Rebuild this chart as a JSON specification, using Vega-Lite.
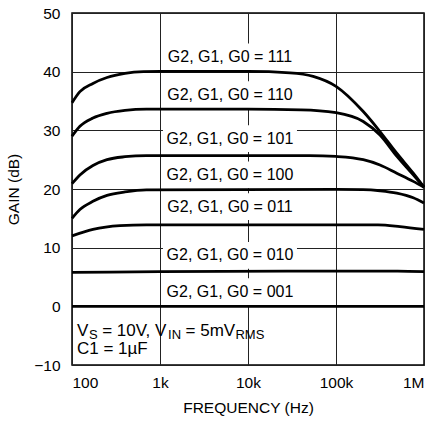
{
  "$schema": "https://vega.github.io/schema/vega-lite/v6.json",
  "width": 352,
  "height": 352,
  "autosize": "none",
  "padding": {"left": 72, "top": 13, "right": 11, "bottom": 56},
  "config": {
    "view": {"stroke": "black", "strokeWidth": 1.5},
    "font": "Liberation Sans",
    "axis": {
      "domain": false, "ticks": false, "grid": true, "gridColor": "#222", "gridWidth": 1, "gridOpacity": 1,
      "labelFont": "Liberation Sans", "labelFontSize": 15.5, "labelColor": "black",
      "titleFont": "Liberation Sans", "titleFontSize": 15.5, "titleFontWeight": "normal", "titleColor": "black"
    }
  },
  "datasets": {
    "curves": [
      {"code": "111", "freq": 100, "gain": 34.7}, {"code": "111", "freq": 123, "gain": 36.6}, {"code": "111", "freq": 173, "gain": 38.0}, {"code": "111", "freq": 250, "gain": 39.0}, {"code": "111", "freq": 400, "gain": 39.7}, {"code": "111", "freq": 650, "gain": 40.0}, {"code": "111", "freq": 1000, "gain": 40.05}, {"code": "111", "freq": 10000, "gain": 40.05}, {"code": "111", "freq": 30000, "gain": 39.8}, {"code": "111", "freq": 55000, "gain": 39.2}, {"code": "111", "freq": 100000, "gain": 37.5}, {"code": "111", "freq": 204000, "gain": 33.2}, {"code": "111", "freq": 316000, "gain": 29.8}, {"code": "111", "freq": 490000, "gain": 26.1}, {"code": "111", "freq": 755000, "gain": 22.7}, {"code": "111", "freq": 1000000, "gain": 20.3},
      {"code": "110", "freq": 100, "gain": 29.0}, {"code": "110", "freq": 123, "gain": 30.7}, {"code": "110", "freq": 173, "gain": 32.1}, {"code": "110", "freq": 250, "gain": 32.9}, {"code": "110", "freq": 400, "gain": 33.4}, {"code": "110", "freq": 700, "gain": 33.6}, {"code": "110", "freq": 10000, "gain": 33.6}, {"code": "110", "freq": 40000, "gain": 33.5}, {"code": "110", "freq": 100000, "gain": 33.0}, {"code": "110", "freq": 204000, "gain": 31.5}, {"code": "110", "freq": 316000, "gain": 29.2}, {"code": "110", "freq": 490000, "gain": 25.6}, {"code": "110", "freq": 755000, "gain": 22.4}, {"code": "110", "freq": 1000000, "gain": 20.3},
      {"code": "101", "freq": 100, "gain": 20.9}, {"code": "101", "freq": 123, "gain": 22.4}, {"code": "101", "freq": 173, "gain": 24.0}, {"code": "101", "freq": 250, "gain": 25.0}, {"code": "101", "freq": 400, "gain": 25.5}, {"code": "101", "freq": 700, "gain": 25.7}, {"code": "101", "freq": 50000, "gain": 25.7}, {"code": "101", "freq": 100000, "gain": 25.55}, {"code": "101", "freq": 204000, "gain": 25.0}, {"code": "101", "freq": 316000, "gain": 24.1}, {"code": "101", "freq": 490000, "gain": 22.7}, {"code": "101", "freq": 755000, "gain": 21.3}, {"code": "101", "freq": 1000000, "gain": 20.3},
      {"code": "100", "freq": 100, "gain": 15.0}, {"code": "100", "freq": 123, "gain": 16.5}, {"code": "100", "freq": 173, "gain": 17.9}, {"code": "100", "freq": 250, "gain": 18.9}, {"code": "100", "freq": 400, "gain": 19.5}, {"code": "100", "freq": 700, "gain": 19.85}, {"code": "100", "freq": 100000, "gain": 19.95}, {"code": "100", "freq": 204000, "gain": 19.9}, {"code": "100", "freq": 316000, "gain": 19.7}, {"code": "100", "freq": 490000, "gain": 19.3}, {"code": "100", "freq": 755000, "gain": 18.5}, {"code": "100", "freq": 1000000, "gain": 17.6},
      {"code": "011", "freq": 100, "gain": 12.0}, {"code": "011", "freq": 173, "gain": 13.1}, {"code": "011", "freq": 351, "gain": 13.75}, {"code": "011", "freq": 700, "gain": 13.9}, {"code": "011", "freq": 300000, "gain": 13.9}, {"code": "011", "freq": 534000, "gain": 13.6}, {"code": "011", "freq": 1000000, "gain": 13.1},
      {"code": "010", "freq": 100, "gain": 5.8}, {"code": "010", "freq": 1000, "gain": 5.9}, {"code": "010", "freq": 100000, "gain": 6.0}, {"code": "010", "freq": 500000, "gain": 6.0}, {"code": "010", "freq": 1000000, "gain": 5.9},
      {"code": "001", "freq": 100, "gain": 0.0}, {"code": "001", "freq": 10000, "gain": 0.0}, {"code": "001", "freq": 1000000, "gain": 0.0}
    ],
    "labels": [
      {"label": "G2, G1, G0 = 111", "gain": 42.5},
      {"label": "G2, G1, G0 = 110", "gain": 36.1},
      {"label": "G2, G1, G0 = 101", "gain": 28.6},
      {"label": "G2, G1, G0 = 100", "gain": 22.4},
      {"label": "G2, G1, G0 = 011", "gain": 17.0},
      {"label": "G2, G1, G0 = 010", "gain": 8.7},
      {"label": "G2, G1, G0 = 001", "gain": 2.5}
    ],
    "notes": [
      {"text": "V", "freq": 114, "gain": -5.0},
      {"text": "= 10V, V", "freq": 220, "gain": -5.0},
      {"text": "= 5mV", "freq": 1950, "gain": -5.0},
      {"text": "C1 = 1µF", "freq": 114, "gain": -8.2}
    ],
    "subs": [
      {"text": "S", "freq": 156, "gain": -5.5},
      {"text": "IN", "freq": 1235, "gain": -5.5},
      {"text": "RMS", "freq": 7200, "gain": -5.5}
    ]
  },
  "encoding": {
    "x": {
      "type": "quantitative",
      "scale": {"type": "log", "domain": [100, 1000000], "nice": false},
      "axis": {
        "title": "FREQUENCY (Hz)",
        "values": [100, 1000, 10000, 100000, 1000000],
        "labelExpr": "datum.value == 100 ? '100' : datum.value == 1000 ? '1k' : datum.value == 10000 ? '10k' : datum.value == 100000 ? '100k' : '1M'",
        "labelPadding": 10,
        "titlePadding": 10
      }
    },
    "y": {
      "type": "quantitative",
      "scale": {"domain": [-10, 50], "nice": false, "zero": false},
      "axis": {
        "title": "GAIN (dB)",
        "values": [-10, 0, 10, 20, 30, 40, 50],
        "labelPadding": 12,
        "titlePadding": 12
      }
    }
  },
  "layer": [
    {
      "data": {"name": "labels"},
      "mark": {"type": "point", "shape": "M-1,-0.2H1V0.2H-1Z", "filled": true, "fill": "white", "stroke": null, "opacity": 1, "size": 17956},
      "encoding": {
        "x": {"datum": 6240},
        "y": {"field": "gain"}
      }
    },
    {
      "data": {"name": "curves"},
      "mark": {"type": "line", "interpolate": "monotone", "color": "black", "strokeWidth": 2.8},
      "encoding": {
        "x": {"field": "freq"},
        "y": {"field": "gain"},
        "detail": {"field": "code", "type": "nominal"}
      }
    },
    {
      "data": {"name": "labels"},
      "mark": {"type": "text", "align": "center", "baseline": "middle", "fontSize": 16, "color": "black", "font": "Liberation Sans"},
      "encoding": {
        "x": {"datum": 6240},
        "y": {"field": "gain"},
        "text": {"field": "label"}
      }
    },
    {
      "data": {"name": "notes"},
      "mark": {"type": "text", "align": "left", "baseline": "alphabetic", "fontSize": 17, "color": "black", "font": "Liberation Sans"},
      "encoding": {
        "x": {"field": "freq"},
        "y": {"field": "gain"},
        "text": {"field": "text"}
      }
    },
    {
      "data": {"name": "subs"},
      "mark": {"type": "text", "align": "left", "baseline": "alphabetic", "fontSize": 13, "color": "black", "font": "Liberation Sans"},
      "encoding": {
        "x": {"field": "freq"},
        "y": {"field": "gain"},
        "text": {"field": "text"}
      }
    }
  ]
}
